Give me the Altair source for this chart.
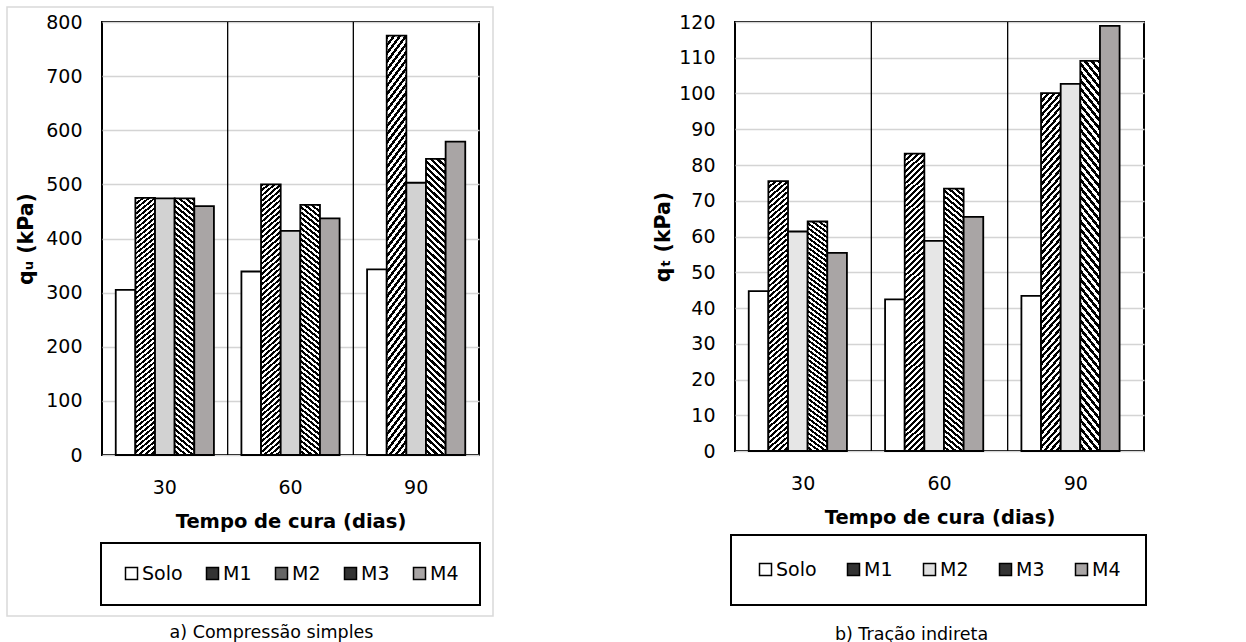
import altair as alt
import pandas as pd

# ---------------- data ----------------
tempos = ["30", "60", "90"]
series = ["Solo", "M1", "M2", "M3", "M4"]

qu_solo = [305, 339, 343]
qu_m1 = [475, 500, 775]
qu_m2 = [474, 414, 503]
qu_m3 = [474, 462, 547]
qu_m4 = [460, 437, 579]
qu_ticks = [0, 100, 200, 300, 400, 500, 600, 700, 800]

qt_solo = [44.7, 42.4, 43.4]
qt_m1 = [75.5, 83.2, 100.1]
qt_m2 = [61.4, 58.8, 102.7]
qt_m3 = [64.2, 73.4, 109.1]
qt_m4 = [55.4, 65.5, 118.9]
qt_ticks = [0, 10, 20, 30, 40, 50, 60, 70, 80, 90, 100, 110, 120]

FONT = "DejaVu Sans"


def long_df(cols):
    rows = []
    for s, vals in zip(series, cols):
        for t, v in zip(tempos, vals):
            rows.append({"tempo": t, "serie": s, "valor": v})
    return pd.DataFrame(rows)


def hatch(direction, n, dark_frac, k=16.0):
    s = (1 + k) / (1 + k * k)
    if direction == "/":
        x1, y1, x2, y2 = 0, 0, s, s * k
    else:
        x1, y1, x2, y2 = 1, 0, 1 - s, s * k
    stops = []
    for i in range(n):
        a = round(i / n, 5)
        b = round((i + dark_frac) / n, 5)
        c = round((i + 1) / n, 5)
        stops += [
            {"offset": a, "color": "#000000"},
            {"offset": b, "color": "#000000"},
            {"offset": b, "color": "#ffffff"},
            {"offset": c, "color": "#ffffff"},
        ]
    return {"gradient": "linear", "x1": x1, "y1": y1, "x2": x2, "y2": y2, "stops": stops}


def panel(df, ymax, ticks, ytitle, width, height, fills, leg_colors,
          legend_x, legend_y, legend_pad, col_pad, caption, cap_dx,
          cap_offset, ytitle_pad, frame=None):
    def make_x(**extra):
        return alt.X(
            "tempo:N",
            scale=alt.Scale(domain=tempos, paddingInner=0, paddingOuter=0),
            axis=alt.Axis(
                title="Tempo de cura (dias)", labelAngle=0, labelFont=FONT,
                labelFontSize=19, labelColor="black", labelPadding=23,
                ticks=False, tickSize=0, domain=False, grid=False,
                titleFont=FONT, titleFontSize=19.5, titleFontWeight="bold",
                titleColor="black", titlePadding=15,
            ),
            **extra,
        )

    y_enc = alt.Y(
        "valor:Q",
        scale=alt.Scale(domain=[0, ymax], nice=False),
        axis=alt.Axis(
            values=ticks, title=ytitle, labelFont=FONT, labelFontSize=19,
            labelColor="black", labelPadding=20, ticks=False, tickSize=0,
            domain=False, grid=True, gridColor="#d4d4d4", gridWidth=1.5,
            titleFont=FONT, titleFontSize=20.5, titleFontWeight="bold",
            titleColor="black", titlePadding=ytitle_pad,
        ),
    )
    xo_enc = alt.XOffset(
        "serie:N",
        scale=alt.Scale(domain=series, paddingInner=0, paddingOuter=0.7),
    )
    base = alt.Chart(df).encode(x=make_x(), xOffset=xo_enc, y=y_enc)

    layers = []
    if frame is not None:
        layers.append(frame)
    for s, f in zip(series, fills):
        layers.append(
            base.transform_filter(alt.datum.serie == s).mark_bar(
                fill=f, stroke="black", strokeWidth=1.8
            )
        )
    sep = alt.Chart(pd.DataFrame({"tempo": tempos[1:]})).mark_rule(
        color="black", strokeWidth=1.3
    ).encode(x=make_x(bandPosition=0))
    layers.append(sep)

    leg = alt.Chart(df).transform_filter("false").mark_square(
        filled=True, opacity=1
    ).encode(
        fill=alt.Fill(
            "serie:N",
            scale=alt.Scale(domain=series, range=leg_colors),
            legend=alt.Legend(
                orient="none", legendX=legend_x, legendY=legend_y,
                direction="horizontal", title=None, symbolType="square",
                symbolSize=144, symbolStrokeColor="black",
                symbolStrokeWidth=1.5, symbolOpacity=1, labelFont=FONT,
                labelFontSize=19, labelColor="black", labelOffset=1,
                columnPadding=col_pad, padding=legend_pad, gridAlign="none",
                strokeColor="black",
            ),
        )
    )
    layers.append(leg)

    return alt.layer(*layers).properties(
        width=width,
        height=height,
        title=alt.TitleParams(
            caption, orient="bottom", frame="group", anchor="middle",
            dx=cap_dx, offset=cap_offset, font=FONT, fontSize=17.5,
            fontWeight="normal", color="black",
        ),
    )


m1_fill = hatch("/", 55, 0.5)
m3_fill = hatch("\\", 50, 0.5)

frame_left = alt.Chart(pd.DataFrame({"k": [0]})).mark_rect(
    filled=False, stroke="#d9d9d9", strokeWidth=1.5, clip=False
).encode(
    x=alt.value(-95), x2=alt.value(391), y=alt.value(-15), y2=alt.value(594)
)

left = panel(
    long_df([qu_solo, qu_m1, qu_m2, qu_m3, qu_m4]), 800, qu_ticks,
    "qᵤ  (kPa)", 377, 433,
    ["#ffffff", m1_fill, "#d2d2d2", m3_fill, "#a9a5a5"],
    ["#ffffff", "#333333", "#666666", "#333333", "#a9a5a5"],
    legend_x=-1, legend_y=521, legend_pad=21, col_pad=20,
    caption="a) Compressão simples", cap_dx=-19, cap_offset=7,
    ytitle_pad=9, frame=frame_left,
)

right = panel(
    long_df([qt_solo, qt_m1, qt_m2, qt_m3, qt_m4]), 120, qt_ticks,
    "qₜ  (kPa)", 409, 429,
    ["#ffffff", m1_fill, "#e6e6e6", m3_fill, "#a9a5a5"],
    ["#ffffff", "#333333", "#e0e0e0", "#333333", "#a9a5a5"],
    legend_x=-4, legend_y=513, legend_pad=25, col_pad=27,
    caption="b) Tração indireta", cap_dx=-28, cap_offset=20,
    ytitle_pad=5,
)

chart = alt.hconcat(left, right, spacing=256, bounds="flush").resolve_scale(
    fill="independent"
).resolve_legend(fill="independent").properties(
    padding={"left": 5, "top": 5, "right": 5, "bottom": 0},
    background="white",
).configure(font=FONT).configure_view(
    stroke="black", strokeWidth=2
).configure_legend(strokeWidth=2)

chart.save("out.html", embed_options={"renderer": "svg", "actions": False})
